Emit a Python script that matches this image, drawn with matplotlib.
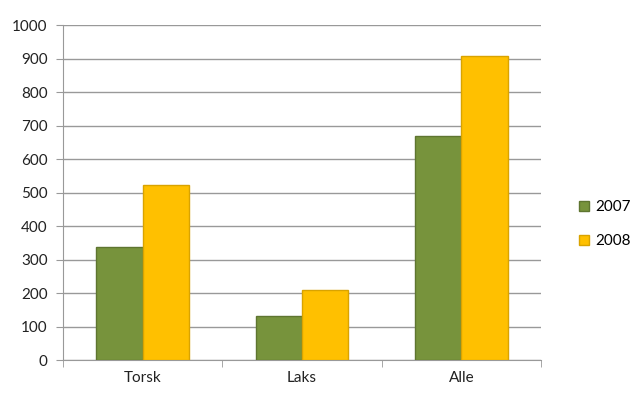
import matplotlib
matplotlib.use("Agg")
import matplotlib.pyplot as plt
import numpy as np

categories = ["Torsk", "Laks", "Alle"]
series_names = ["2007", "2008"]
values_2007 = [337, 130, 669]
values_2008 = [522, 209, 907]
yticks = [0, 100, 200, 300, 400, 500, 600, 700, 800, 900, 1000]

plt.rcParams['font.family'] = ['Lato', 'DejaVu Sans']

fig = plt.figure(figsize=(6.3, 3.99), dpi=100)
ax = fig.add_axes([0.1, 0.0977, 0.7587, 0.8393])

x = np.arange(len(categories))
w = 0.29
colors = ["#77933C", "#FFC000"]
edges = ["#5E7530", "#D9A300"]
for i, (vals, name) in enumerate(zip([values_2007, values_2008], series_names)):
    ax.bar(x + (i - 0.5) * w, vals, width=w, color=colors[i], edgecolor=edges[i],
           linewidth=1.0, label=name, zorder=3)

ax.set_xlim(-0.5, len(categories) - 0.5)
ax.set_ylim(0, 1000)
ax.set_yticks(yticks)
ax.set_yticklabels([str(t) for t in yticks], fontsize=11, color="#222222")
ax.set_xticks(x)
ax.set_xticklabels(categories, fontsize=11, color="#222222")
ax.tick_params(axis='x', length=0, pad=8)
ax.set_xticks(np.arange(-0.5, len(categories) + 0.5, 1), minor=True)
ax.tick_params(axis='x', which='minor', length=5, color="#999999")
ax.tick_params(axis='y', length=5, color="#999999", pad=6)
ax.grid(axis='y', color="#999999", linewidth=1.0, zorder=0)
for s in ["top", "right"]:
    ax.spines[s].set_visible(False)
for s in ["left", "bottom"]:
    ax.spines[s].set_color("#999999")

leg = ax.legend(loc="center left", bbox_to_anchor=(1.05, 0.405), frameon=False,
                fontsize=11, handlelength=0.7, handleheight=0.7, labelspacing=1.3,
                handletextpad=0.4)

fig.savefig("out.png", dpi=100)
